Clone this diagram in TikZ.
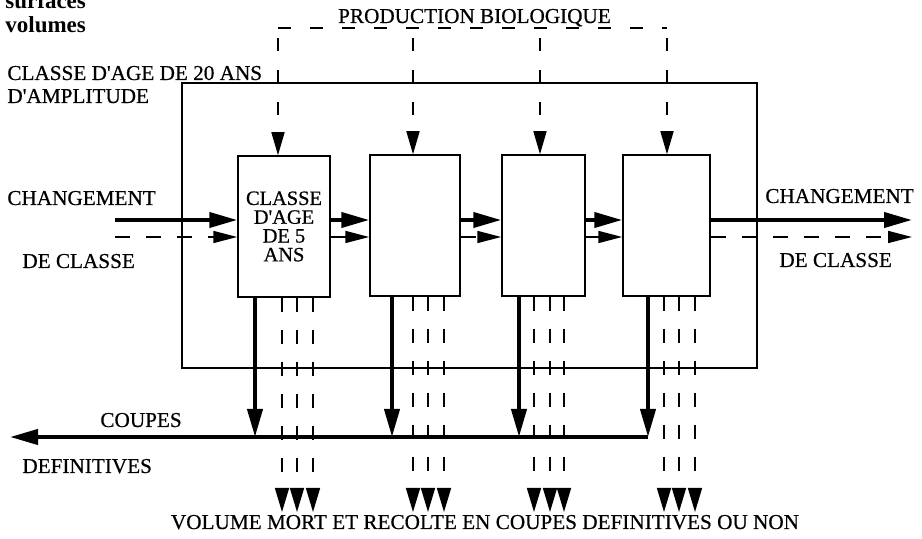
\documentclass[tikz,border=0pt]{standalone}
\usepackage{fontspec}
\setmainfont{Liberation Serif}
\newfontfamily\scanfont{Liberation Serif}[FakeBold=0.6]
\usetikzlibrary{arrows.meta, positioning, calc}

\begin{document}
\begin{tikzpicture}[
  x=0.5pt, y=-0.5pt,
  every node/.style={font=\scanfont\fontsize{10.6}{9.6}\selectfont, inner sep=0pt},
  txt/.style={anchor=base west},
  legend/.style={txt, font=\fontsize{11.5}{12}\selectfont\bfseries},
  box/.style={draw, line width=0.75pt, minimum height=70.5pt, align=center},
  frame/.style={draw, line width=0.75pt, minimum width=287.5pt, minimum height=142.5pt},
  flow/.style={line width=2pt, -{Triangle[length=14pt, width=7.5pt]}},
  flowdash/.style={line width=0.8pt, dash pattern=on 7.5pt off 8pt, -{Triangle[length=12pt, width=6pt]}},
  prod/.style={line width=0.8pt, dash pattern=on 6.5pt off 9.5pt},
  prodarrow/.style={prod, dash phase=11pt, -{Triangle[length=11.5pt, width=6.5pt]}},
  loss/.style={line width=0.8pt, dash pattern=on 7pt off 9pt, -{Triangle[length=12pt, width=7pt]}},
]
\useasboundingbox (0,0) rectangle (922,539);

% Legend
\node[legend] (surf) at (5,8.5) {surfaces};
\node[legend] (vol) at (5,33) {volumes};

% Class of 20 years
\node[frame] (age20) at (469.5,225.5) {};
\node[txt] (age20a) at (7,80) {CLASSE D'AGE DE 20 ANS};
\node[txt] (age20b) at (7,103) {D'AMPLITUDE};

% Classes of 5 years
\node[box, minimum width=46pt, font=\scanfont\fontsize{10.2}{9.4}\selectfont] (b1) at (284,226.5) {CLASSE\\D'AGE\\DE 5\\ANS};
\node[box, minimum width=45pt] (b2) at (415,225.5) {};
\node[box, minimum width=41.5pt] (b3) at (543.5,225.5) {};
\node[box, minimum width=43.5pt] (b4) at (666.5,225.5) {};

% Biological production
\coordinate (p1) at (278,28);
\coordinate (p2) at (413,28);
\coordinate (p3) at (540,28);
\coordinate (p4) at (667,28);
\draw[prod] (p1) -- (p4);
\node[anchor=base] (prodtxt) at (474.5,23) {PRODUCTION BIOLOGIQUE};
\draw[prodarrow] (p1) -- (p1 |- b1.north);
\draw[prodarrow] (p2) -- (p2 |- b2.north);
\draw[prodarrow] (p3) -- (p3 |- b3.north);
\draw[prodarrow] (p4) -- (p4 |- b4.north);

% Class change in and out
\coordinate (inL) at (115,220);
\coordinate (inLd) at (115,237);
\coordinate (outR) at (912,220);
\coordinate (outRd) at (912,237);
\node[txt] (chgL) at (7,205) {CHANGEMENT};
\node[txt] (dclL) at (22,268) {DE CLASSE};
\node[txt] (chgR) at (765,203) {CHANGEMENT};
\node[txt] (dclR) at (779,267) {DE CLASSE};

\draw[flow] (inL) -- (inL -| b1.west);
\draw[flowdash] (inLd) -- (inLd -| b1.west);
\draw[flow] (b1.east |- inL) -- (b2.west |- inL);
\draw[flowdash] (b1.east |- inLd) -- (b2.west |- inLd);
\draw[flow] (b2.east |- inL) -- (b3.west |- inL);
\draw[flowdash] (b2.east |- inLd) -- (b3.west |- inLd);
\draw[flow] (b3.east |- inL) -- (b4.west |- inL);
\draw[flowdash] (b3.east |- inLd) -- (b4.west |- inLd);
\draw[flow] (b4.east |- inL) -- (outR);
\draw[flowdash] (b4.east |- inLd) -- (outRd);

% Final cuts
\coordinate (c1) at (255,437);
\coordinate (c2) at (392,437);
\coordinate (c3) at (519,437);
\coordinate (c4) at (648,437);
\coordinate (cl) at (10,437);
\node[txt] (coup) at (100,427) {COUPES};
\node[txt] (defi) at (22,473) {DEFINITIVES};

\draw[flow] (c1 |- b1.south) -- (c1);
\draw[flow] (c2 |- b2.south) -- (c2);
\draw[flow] (c3 |- b3.south) -- (c3);
\draw[flow] (c4 |- b4.south) -- (c4);
\draw[flow] (c4) -- (cl);

% Dead volume and harvest
\coordinate (v1a) at (282,512);
\coordinate (v1b) at (297,512);
\coordinate (v1c) at (313,512);
\coordinate (v2a) at (413,512);
\coordinate (v2b) at (428,512);
\coordinate (v2c) at (444,512);
\coordinate (v3a) at (534,512);
\coordinate (v3b) at (550,512);
\coordinate (v3c) at (564,512);
\coordinate (v4a) at (664,512);
\coordinate (v4b) at (679,512);
\coordinate (v4c) at (695,512);

\draw[loss] (b1.south -| v1a) -- (v1a);
\draw[loss] (b1.south -| v1b) -- (v1b);
\draw[loss] (b1.south -| v1c) -- (v1c);
\draw[loss] (b2.south -| v2a) -- (v2a);
\draw[loss] (b2.south -| v2b) -- (v2b);
\draw[loss] (b2.south -| v2c) -- (v2c);
\draw[loss] (b3.south -| v3a) -- (v3a);
\draw[loss] (b3.south -| v3b) -- (v3b);
\draw[loss] (b3.south -| v3c) -- (v3c);
\draw[loss] (b4.south -| v4a) -- (v4a);
\draw[loss] (b4.south -| v4b) -- (v4b);
\draw[loss] (b4.south -| v4c) -- (v4c);

\node[anchor=base] (vmort) at (485,529) {VOLUME MORT ET RECOLTE EN COUPES DEFINITIVES OU NON};

\end{tikzpicture}
\end{document}
